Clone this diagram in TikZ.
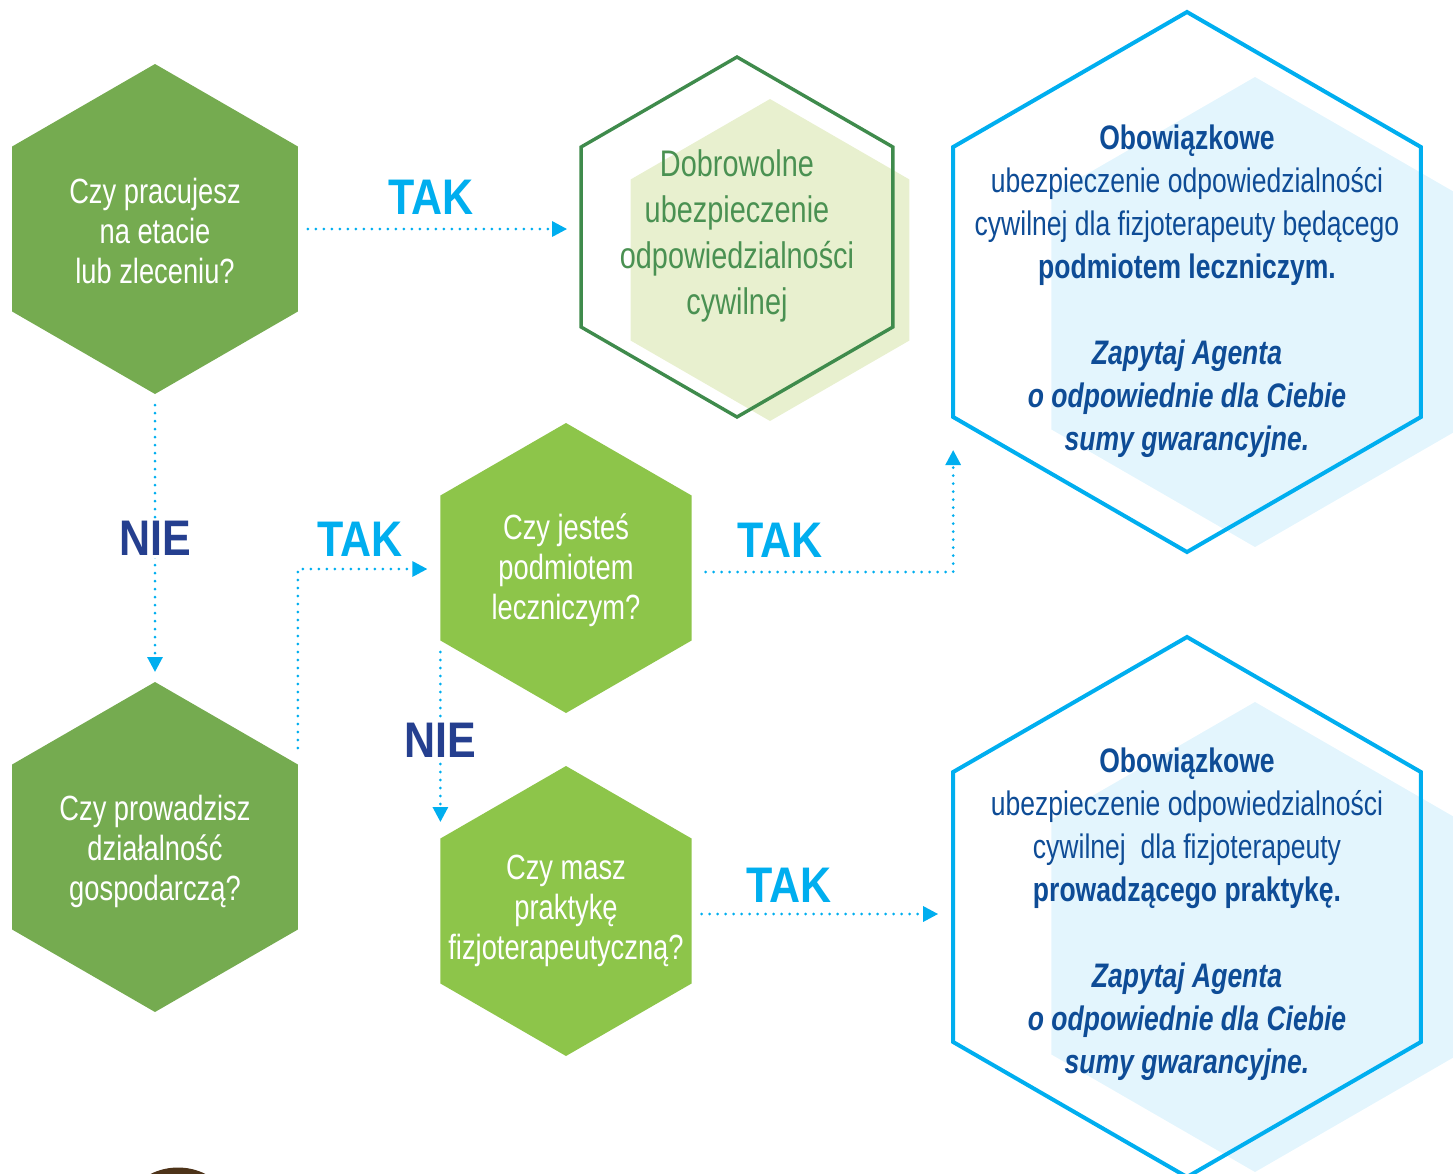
\documentclass[tikz,border=0pt]{standalone}
\usepackage{fontspec}
\setmainfont{Liberation Sans}[FakeStretch=0.78]
\newfontfamily\napisfont{Liberation Sans}[FakeStretch=0.86]
\usetikzlibrary{arrows.meta,calc,positioning,shapes.geometric}
\definecolor{zielony}{HTML}{75AB50}
\definecolor{jasnyziel}{HTML}{8DC54A}
\definecolor{ciemnyziel}{HTML}{3F8B4C}
\definecolor{tekstziel}{HTML}{4A9152}
\definecolor{bladyziel}{HTML}{E8F0CF}
\definecolor{niebieski}{HTML}{00AEEF}
\definecolor{bladyniebieski}{HTML}{E3F5FD}
\definecolor{granat}{HTML}{0E4C96}
\definecolor{granatnie}{HTML}{253F8F}
\definecolor{braz}{HTML}{4D3319}

\tikzset{
    heks/.style={regular polygon,regular polygon sides=6,shape border rotate=30,
        inner sep=0pt,outer sep=0pt},
    pytanie/.style={text=white,align=center,font=\fontsize{17.5}{20}\selectfont},
    dobr/.style={text=tekstziel,align=center,font=\fontsize{18.5}{23}\selectfont},
    odp/.style={text=granat,align=center,font=\fontsize{17}{21.5}\selectfont},
    strzalka/.style={niebieski,line width=1.5pt,dash pattern=on 0pt off 4pt,line cap=round,
        -{Triangle[width=7.5pt,length=7.5pt]}},
    tak/.style={niebieski,inner sep=0pt,font=\napisfont\bfseries\fontsize{25}{25}\selectfont},
    nie/.style={granatnie,fill=white,inner sep=1pt,font=\napisfont\bfseries\fontsize{25}{25}\selectfont}
}

\begin{document}
\begin{tikzpicture}[x=0.5pt,y=-0.5pt]
    \useasboundingbox (0,0) rectangle (1453,1174);
    % ---- Tla (jasne heksagony) ----
    \node[heks,fill=bladyziel,minimum size=161pt] (tloDobr) at (770,260) {};
    \node[heks,fill=bladyniebieski,minimum size=235pt] (tloPodm) at (1255,312) {};
    \node[heks,fill=bladyniebieski,minimum size=235pt] (tloPrakt) at (1255,937) {};

    % ---- Pytania ----
    \node[heks,fill=zielony,minimum size=165pt] (qEtat) at (155,229) {};
    \node[heks,fill=zielony,minimum size=165pt] (qDzial) at (155,847) {};
    \node[heks,fill=jasnyziel,minimum size=145pt] (qPodm) at (566,568) {};
    \node[heks,fill=jasnyziel,minimum size=145pt] (qPrakt) at (566,911) {};

    % ---- Odpowiedzi (obrysy) ----
    \node[heks,draw=ciemnyziel,line width=1.7pt,minimum size=180pt] (oDobr) at (737,237) {};
    \node[heks,draw=niebieski,line width=2pt,minimum size=270pt] (oPodm) at (1187,282) {};
    \node[heks,draw=niebieski,line width=2pt,minimum size=270pt] (oPrakt) at (1187,907) {};

    % ---- Teksty ----
    \node[pytanie] (txEtat) at ($(qEtat)+(0,2)$) {Czy pracujesz\\na etacie\\lub zleceniu?};
    \node[pytanie] (txDzial) at ($(qDzial)+(0,4)$) {Czy prowadzisz\\działalność\\gospodarczą?};
    \node[pytanie] (txPodm) at ($(qPodm)+(0,2)$) {Czy jesteś\\podmiotem\\leczniczym?};
    \node[pytanie] (txPrakt) at ($(qPrakt)+(0,0)$) {Czy masz\\praktykę\\fizjoterapeutyczną?};
    \node[dobr] (txDobr) at ($(oDobr)+(0,-1)$)
        {Dobrowolne\\ubezpieczenie\\odpowiedzialności\\cywilnej};
    \node[odp] (txPodm2) at ($(oPodm)+(0,9)$)
        {\textbf{Obowiązkowe}\\ubezpieczenie odpowiedzialności\\cywilnej dla fizjoterapeuty będącego\\
         \textbf{podmiotem leczniczym.}\\[21.5pt]
         \textbf{\textit{Zapytaj Agenta}}\\\textbf{\textit{o odpowiednie dla Ciebie}}\\
         \textbf{\textit{sumy gwarancyjne.}}};
    \node[odp] (txPrakt2) at ($(oPrakt)+(0,7)$)
        {\textbf{Obowiązkowe}\\ubezpieczenie odpowiedzialności\\cywilnej~ dla fizjoterapeuty\\
         \textbf{prowadzącego praktykę.}\\[21.5pt]
         \textbf{\textit{Zapytaj Agenta}}\\\textbf{\textit{o odpowiednie dla Ciebie}}\\
         \textbf{\textit{sumy gwarancyjne.}}};

    % ---- Strzalki ----
    \draw[strzalka] ($(qEtat.east)+(10,0)$) -- ($(qEtat.east -| oDobr.west)+(-14,0)$)
        node[tak,pos=0.475,above=6.5pt] {TAK};
    \draw[strzalka] ($(qEtat.south)+(0,11)$) -- ($(qDzial.north)+(0,-10)$)
        node[nie,pos=0.5] {NIE};
    \draw[strzalka] ($(qDzial.east)+(0,-99)$) |- ($(qPodm.west)+(-13,1)$)
        node[tak,pos=0.74,above=5.5pt] {TAK};
    \draw[strzalka] ($(qPodm.west)+(0,84)$) -- ($(qPrakt.west)+(0,-89)$)
        node[nie,pos=0.52] {NIE};
    \draw[strzalka] ($(qPodm.east)+(14,4)$) -| ($(oPodm.west)+(0,168)$)
        node[tak,pos=0.15,above=6.5pt] {TAK};
    \draw[strzalka] ($(qPrakt.east)+(10,3)$) -- ($(oPrakt.west)+(-15,7)$)
        node[tak,pos=0.37,above=5pt] {TAK};

    % ---- Element u dolu ----
    \fill[braz] (178,1229) circle (61.5);
\end{tikzpicture}
\end{document}
